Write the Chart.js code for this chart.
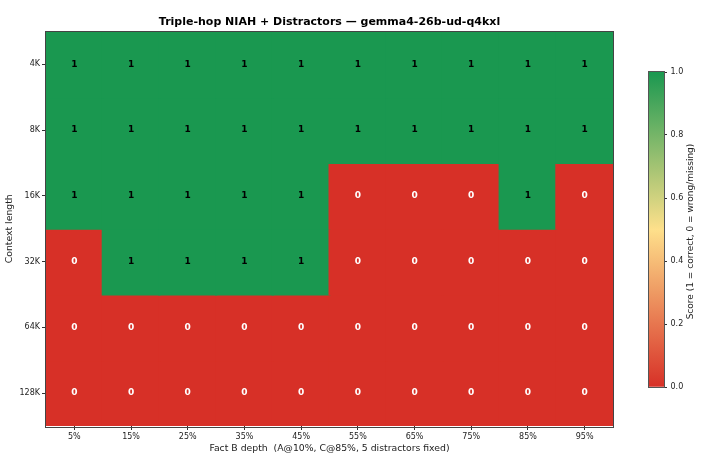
<!DOCTYPE html>
<html>
<head>
<meta charset="utf-8">
<script src="https://cdn.jsdelivr.net/npm/chart.js@4/dist/chart.umd.min.js"></script>
<style>
  html, body { margin: 0; padding: 0; background: #fff; }
  #wrap { position: relative; width: 713px; height: 462px; }
  #main { position: absolute; left: 0; top: 0; }
  #cbar { position: absolute; left: 640px; top: 60px; }
</style>
</head>
<body>
<div id="wrap">
  <canvas id="main" width="713" height="462"></canvas>
  <canvas id="cbar" width="73" height="340"></canvas>
</div>
<script>
// ---- data ----
const contextLengths = ['4K', '8K', '16K', '32K', '64K', '128K'];
const depthLabels = ['5%', '15%', '25%', '35%', '45%', '55%', '65%', '75%', '85%', '95%'];
const score4K   = [1, 1, 1, 1, 1, 1, 1, 1, 1, 1];
const score8K   = [1, 1, 1, 1, 1, 1, 1, 1, 1, 1];
const score16K  = [1, 1, 1, 1, 1, 0, 0, 0, 1, 0];
const score32K  = [0, 1, 1, 1, 1, 0, 0, 0, 0, 0];
const score64K  = [0, 0, 0, 0, 0, 0, 0, 0, 0, 0];
const score128K = [0, 0, 0, 0, 0, 0, 0, 0, 0, 0];
const scores = [score4K, score8K, score16K, score32K, score64K, score128K];
const colorbarTicks = [0, 0.2, 0.4, 0.6, 0.8, 1.0];
const chartTitle = 'Triple-hop NIAH + Distractors — gemma4-26b-ud-q4kxl';

// ---- colours ----
const RED = '#d73027', YEL = '#fee08b', GRN = '#1a9850';
function hexToRgb(h) { return [1,3,5].map(i => parseInt(h.substr(i,2),16)); }
function cmap(v) {
  const a = v < 0.5 ? hexToRgb(RED) : hexToRgb(YEL);
  const b = v < 0.5 ? hexToRgb(YEL) : hexToRgb(GRN);
  const t = v < 0.5 ? v / 0.5 : (v - 0.5) / 0.5;
  const c = a.map((x, i) => Math.round(x + (b[i] - x) * t));
  return `rgb(${c[0]},${c[1]},${c[2]})`;
}

const FONT = "'DejaVu Sans', sans-serif";
Chart.defaults.font.family = FONT;
Chart.defaults.color = '#222';

const datasets = scores.map((row, i) => ({
  label: contextLengths[i],
  data: row.map(() => 1),
  backgroundColor: row.map(v => cmap(v)),
  borderWidth: 0,
  inflateAmount: 1,
  barPercentage: 1.0,
  categoryPercentage: 1.0,
  stack: 'grid'
}));

const cellText = {
  id: 'cellText',
  afterDatasetsDraw(chart) {
    const ctx = chart.ctx;
    ctx.save();
    ctx.font = "bold 9px " + FONT;
    ctx.textAlign = 'center';
    ctx.textBaseline = 'middle';
    chart.data.datasets.forEach((ds, i) => {
      const meta = chart.getDatasetMeta(i);
      meta.data.forEach((el, j) => {
        const v = scores[i][j];
        ctx.fillStyle = v >= 0.5 ? '#000' : '#fff';
        ctx.fillText(String(v), el.x, (el.y + el.base) / 2);
      });
    });
    ctx.restore();
  },
  afterDraw(chart) {
    const a = chart.chartArea, ctx = chart.ctx;
    ctx.save();
    // white cover outside the chart area for inflated edges
    ctx.strokeStyle = '#444';
    ctx.lineWidth = 1;
    ctx.strokeRect(Math.round(a.left) - 0.5, Math.round(a.top) - 0.5,
                   Math.round(a.right - a.left) + 1, Math.round(a.bottom - a.top) + 1);
    ctx.font = "bold 11px " + FONT;
    ctx.fillStyle = '#000';
    ctx.textAlign = 'center';
    ctx.textBaseline = 'middle';
    ctx.fillText(chartTitle, (a.left + a.right) / 2, 22);
    ctx.restore();
  }
};

new Chart(document.getElementById('main'), {
  type: 'bar',
  data: { labels: depthLabels, datasets },
  options: {
    responsive: false,
    animation: false,
    layout: { padding: { left: 0, right: 100, top: 31.5, bottom: 0 } },
    plugins: {
      legend: { display: false },
      tooltip: { enabled: false },
      title: { display: false }
    },
    scales: {
      x: {
        stacked: true,
        offset: true,
        grid: { display: true, drawOnChartArea: false, drawTicks: true, tickLength: 4, offset: false, color: '#333' },
        border: { display: false },
        ticks: { font: { size: 8 }, padding: 2, maxRotation: 0, autoSkip: false, color: '#222' },
        title: { display: true, text: 'Fact B depth  (A@10%, C@85%, 5 distractors fixed)', font: { size: 9.3 }, color: '#222', padding: { top: 0, bottom: 8 } },
        afterFit(scale) { scale.height = 36; }
      },
      y: {
        stacked: true,
        reverse: true,
        min: 0,
        max: contextLengths.length,
        grid: { display: true, drawOnChartArea: false, drawTicks: true, tickLength: 4, color: '#333' },
        border: { display: false },
        afterBuildTicks(scale) { scale.ticks = contextLengths.map((l, i) => ({ value: i + 0.5 })); },
        ticks: {
          font: { size: 8 }, padding: 2, color: '#222',
          callback: (v) => contextLengths[Math.floor(v)]
        },
        title: { display: true, text: 'Context length', font: { size: 9.3 }, color: '#222', padding: { top: 4, bottom: 0 } },
        afterFit(scale) { scale.width = 46; }
      }
    }
  },
  plugins: [cellText]
});

// ---- colorbar ----
const cbDecor = {
  id: 'cbDecor',
  afterDraw(chart) {
    const a = chart.chartArea, ctx = chart.ctx;
    ctx.save();
    ctx.strokeStyle = '#555';
    ctx.lineWidth = 1;
    ctx.strokeRect(Math.round(a.left) - 0.5, Math.round(a.top) - 0.5,
                   Math.round(a.right - a.left) + 1, Math.round(a.bottom - a.top) + 1);
    ctx.translate(51, (a.top + a.bottom) / 2 + 2);
    ctx.rotate(-Math.PI / 2);
    ctx.font = "9px " + FONT;
    ctx.fillStyle = '#222';
    ctx.textAlign = 'center';
    ctx.textBaseline = 'middle';
    ctx.fillText('Score (1 = correct, 0 = wrong/missing)', 0, 0);
    ctx.restore();
  }
};

new Chart(document.getElementById('cbar'), {
  type: 'bar',
  data: {
    labels: ['score'],
    datasets: [{
      data: [1],
      borderWidth: 0,
      barPercentage: 1.0,
      categoryPercentage: 1.0,
      backgroundColor(c) {
        const { chartArea, ctx } = c.chart;
        if (!chartArea) return GRN;
        const g = ctx.createLinearGradient(0, chartArea.bottom, 0, chartArea.top);
        for (let k = 0; k <= 20; k++) g.addColorStop(k / 20, cmap(k / 20));
        return g;
      }
    }]
  },
  options: {
    responsive: false,
    animation: false,
    layout: { padding: { left: 9, right: 0, top: 12, bottom: 13 } },
    plugins: { legend: { display: false }, tooltip: { enabled: false }, title: { display: false } },
    scales: {
      x: { display: false },
      y: {
        position: 'right',
        min: 0, max: 1,
        afterBuildTicks(scale) { scale.ticks = colorbarTicks.map(v => ({ value: v })); },
        grid: { display: true, drawOnChartArea: false, drawTicks: true, tickLength: 3, color: '#333' },
        border: { display: false },
        ticks: { font: { size: 8 }, padding: 3.5, color: '#222', callback: (v) => Number(v).toFixed(1) },
        afterFit(scale) { scale.width = 49; }
      }
    }
  },
  plugins: [cbDecor]
});
</script>
</body>
</html>
